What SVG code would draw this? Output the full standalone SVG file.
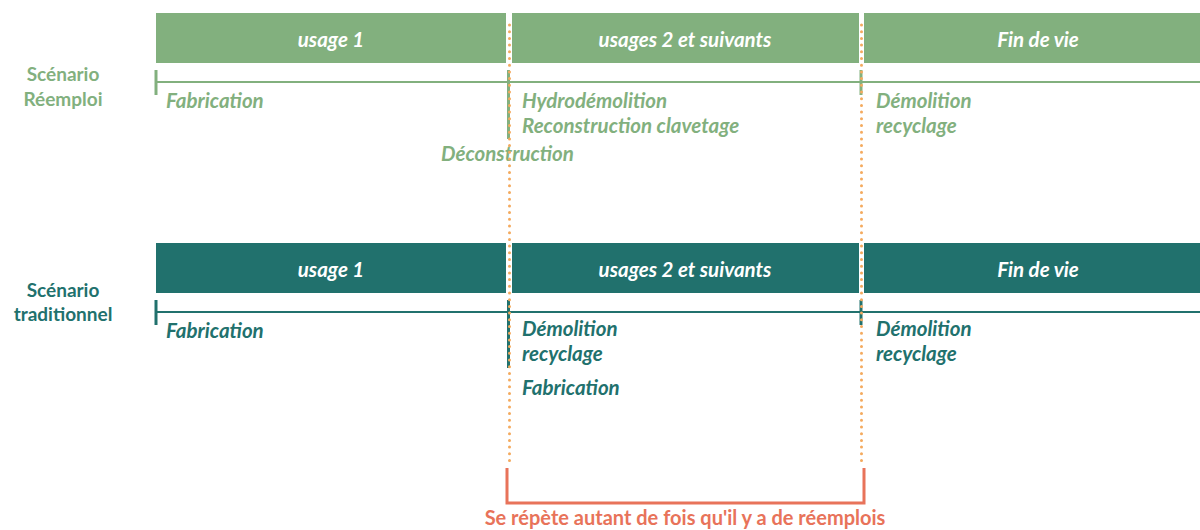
<svg xmlns="http://www.w3.org/2000/svg" width="1200" height="530" viewBox="0 0 1200 530">
<style>
.t{font-family:"Lato","Open Sans",sans-serif;font-weight:bold;font-style:italic;font-size:20.5px}
.bar-t{fill:#fff;text-anchor:middle}
.g{fill:#82B07E}
.d{fill:#21716D}
.lab{font-family:"Lato","Open Sans",sans-serif;font-weight:bold;font-size:19px;text-anchor:middle}
.dots{stroke:#F4AA5E;stroke-width:3;stroke-linecap:round;stroke-dasharray:0 6.7;fill:none}
</style>
<rect width="1200" height="530" fill="#fff"/>
<g id="reemploi">
  <g id="r-usage1"><rect x="156" y="13" width="350" height="50" class="g"/><text x="331" y="47" class="t bar-t">usage 1</text></g>
  <g id="r-usage2"><rect x="512" y="13" width="347" height="50" class="g"/><text x="685" y="47" class="t bar-t">usages 2 et suivants</text></g>
  <g id="r-fin"><rect x="864" y="13" width="336" height="50" class="g"/><text x="1038" y="47" class="t bar-t">Fin de vie</text></g>
  <g id="r-label"><text x="63" y="81" class="lab g">Scénario</text><text x="63" y="106" class="lab g">Réemploi</text></g>
  <g id="r-line" stroke="#82B07E">
    <line x1="156" y1="82" x2="1200" y2="82" stroke-width="2"/>
    <line x1="156" y1="70" x2="156" y2="95" stroke-width="3"/>
    <line x1="508.5" y1="70" x2="508.5" y2="139" stroke-width="3"/>
    <line x1="861" y1="70" x2="861" y2="95" stroke-width="3"/>
  </g>
  <g id="r-texts" class="t g">
    <text x="166" y="108">Fabrication</text>
    <text x="522" y="108">Hydrodémolition</text>
    <text x="522" y="133">Reconstruction clavetage</text>
    <text x="441" y="161">Déconstruction</text>
    <text x="876" y="108">Démolition</text>
    <text x="876" y="133">recyclage</text>
  </g>
</g>
<g id="traditionnel">
  <g id="t-usage1"><rect x="156" y="243" width="350" height="50" class="d"/><text x="331" y="277" class="t bar-t">usage 1</text></g>
  <g id="t-usage2"><rect x="512" y="243" width="347" height="50" class="d"/><text x="685" y="277" class="t bar-t">usages 2 et suivants</text></g>
  <g id="t-fin"><rect x="864" y="243" width="336" height="50" class="d"/><text x="1038" y="277" class="t bar-t">Fin de vie</text></g>
  <g id="t-label"><text x="63" y="297" class="lab d">Scénario</text><text x="63" y="321" class="lab d">traditionnel</text></g>
  <g id="t-line" stroke="#21716D">
    <line x1="156" y1="312" x2="1200" y2="312" stroke-width="2"/>
    <line x1="156" y1="300" x2="156" y2="325" stroke-width="3"/>
    <line x1="508.5" y1="300" x2="508.5" y2="368" stroke-width="3"/>
    <line x1="861" y1="300" x2="861" y2="325" stroke-width="3"/>
  </g>
  <g id="t-texts" class="t d">
    <text x="166" y="338">Fabrication</text>
    <text x="522" y="336">Démolition</text>
    <text x="522" y="361">recyclage</text>
    <text x="522" y="395">Fabrication</text>
    <text x="876" y="336">Démolition</text>
    <text x="876" y="361">recyclage</text>
  </g>
</g>
<g id="connectors">
  <line x1="509.5" y1="25" x2="509.5" y2="462" class="dots"/>
  <line x1="861.5" y1="25" x2="861.5" y2="462" class="dots"/>
  <path d="M507 468 V503 H864 V468" fill="none" stroke="#E8735A" stroke-width="3"/>
</g>
<g id="note"><text x="685" y="525" font-family="Lato,'Open Sans',sans-serif" font-weight="bold" font-size="20" fill="#E8735A" text-anchor="middle">Se répète autant de fois qu'il y a de réemplois</text></g>
</svg>
